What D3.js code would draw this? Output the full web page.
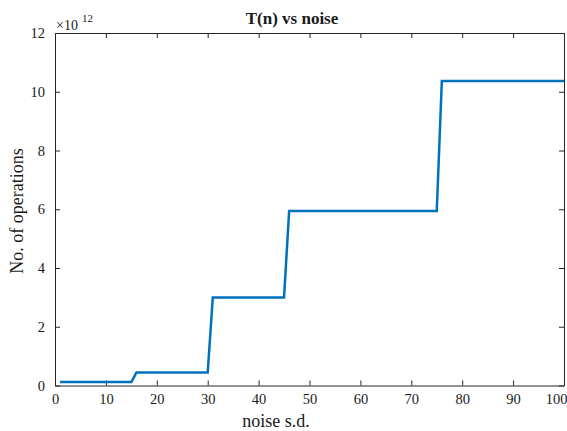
<!DOCTYPE html>
<html>
<head>
<meta charset="utf-8">
<script src="https://cdn.jsdelivr.net/npm/d3@7"></script>
<style>
  body { margin: 0; background: #fff; }
  svg text { font-family: "Liberation Serif", "Times New Roman", serif; fill: #1a1a1a; }
</style>
</head>
<body>
<svg width="567" height="431"></svg>
<script>
// vertices of the step curve (noise s.d. vs operations, in units of 1e12)
var noise = [1, 15, 16, 30, 31, 45, 46, 75, 76, 100];
var ops   = [0.12, 0.12, 0.44, 0.44, 3.0, 3.0, 5.94, 5.94, 10.37, 10.37];
var xTicks = [0, 10, 20, 30, 40, 50, 60, 70, 80, 90, 100];
var yTicks = [0, 2, 4, 6, 8, 10, 12];

var svg = d3.select("svg"),
    mLeft = 55, mRight = 564, mTop = 33, mBottom = 385.5;

var x = d3.scaleLinear().domain([0, 100]).range([mLeft, mRight]),
    y = d3.scaleLinear().domain([0, 12]).range([mBottom, mTop]);

var data = noise.map(function(d, i) { return {x: d, y: ops[i]}; });

// axes with inward ticks, box on all sides
var xAxis = svg.append("g")
    .attr("transform", "translate(0," + mBottom + ")")
    .call(d3.axisBottom(x).tickValues(xTicks).tickSizeInner(-5).tickSizeOuter(0).tickPadding(8));
svg.append("g")
    .attr("transform", "translate(0," + mTop + ")")
    .call(d3.axisTop(x).tickValues(xTicks).tickSizeInner(-5).tickSizeOuter(0).tickFormat(""));
svg.append("g")
    .attr("transform", "translate(" + mLeft + ",0)")
    .call(d3.axisLeft(y).tickValues(yTicks).tickSizeInner(-5).tickSizeOuter(0).tickPadding(10));
svg.append("g")
    .attr("transform", "translate(" + mRight + ",0)")
    .call(d3.axisRight(y).tickValues(yTicks).tickSizeInner(-5).tickSizeOuter(0).tickFormat(""));

svg.selectAll(".domain").attr("stroke", "#262626").attr("stroke-width", 1);
svg.selectAll(".tick line").attr("stroke", "#262626").attr("stroke-width", 1);
svg.selectAll("g").attr("font-family", null).attr("font-size", null);
svg.selectAll(".tick text")
    .style("font-family", "'Liberation Serif', serif")
    .style("font-size", "14.5px")
    .style("fill", "#1a1a1a");

// keep the last x label inside the window
xAxis.selectAll(".tick text")
    .filter(function(d) { return d === 100; })
    .attr("text-anchor", "end")
    .attr("x", 3);

svg.append("path")
    .datum(data)
    .attr("fill", "none")
    .attr("stroke", "#0072BD")
    .attr("stroke-width", 2.5)
    .attr("d", d3.line()
        .x(function(d) { return x(d.x); })
        .y(function(d) { return y(d.y); }));

// exponent label
var ex = svg.append("text")
    .attr("x", mLeft + 1)
    .attr("y", 30)
    .style("font-size", "14px");
ex.append("tspan").text("\u00d710");
ex.append("tspan").attr("dx", 4).attr("dy", -8).style("font-size", "11px").text("12");

svg.append("text")
    .attr("x", 292)
    .attr("y", 24)
    .attr("text-anchor", "middle")
    .style("font-size", "17px")
    .style("font-weight", "bold")
    .text("T(n) vs noise");

svg.append("text")
    .attr("x", 276)
    .attr("y", 427)
    .attr("text-anchor", "middle")
    .style("font-size", "18px")
    .text("noise s.d.");

svg.append("text")
    .attr("transform", "translate(23,211) rotate(-90)")
    .attr("text-anchor", "middle")
    .style("font-size", "18px")
    .text("No. of operations");
</script>
</body>
</html>
